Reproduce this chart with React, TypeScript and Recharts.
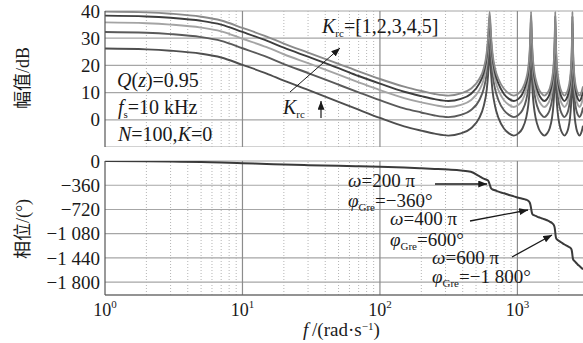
import React from 'react';
import { LineChart, Line, XAxis, YAxis, CartesianGrid, ReferenceLine } from 'recharts';

// frequency points (rad/s)
const freqs = [
  1, 2, 3, 5, 7, 10, 15, 20, 30, 50, 70, 100, 150, 200, 250, 314,
  388, 458, 528, 568, 598, 613, 628, 643, 658, 688, 728, 798, 868, 942,
  1017, 1087, 1157, 1197, 1227, 1242, 1257, 1272, 1287, 1317, 1357, 1427, 1497, 1571,
  1645, 1715, 1785, 1825, 1855, 1870, 1885, 1900, 1915, 1945, 1985, 2055, 2125, 2199,
  2273, 2343, 2413, 2453, 2483, 2498, 2513, 2528, 2543, 2573, 2613, 2683, 2753, 2827,
  2901, 2971, 3000,
];

// magnitude (dB) for Krc = 1..5
const magK1 = [
  26.2, 25.9, 25.4, 24.3, 22.9, 20.2, 17.0, 14.4, 11.0, 6.6, 3.7, 0.7, -2.4, -4.0, -5.1, -5.8,
  -5.0, -3.2, 0.7, 5.0, 11.0, 17.0, 26.0, 17.0, 11.0, 5.0, 0.7, -3.2, -5.0, -5.8,
  -5.0, -3.2, 0.7, 5.0, 11.0, 17.0, 26.0, 17.0, 11.0, 5.0, 0.7, -3.2, -5.0, -5.8,
  -5.0, -3.2, 0.7, 5.0, 11.0, 17.0, 26.0, 17.0, 11.0, 5.0, 0.7, -3.2, -5.0, -5.8,
  -5.0, -3.2, 0.7, 5.0, 11.0, 17.0, 26.0, 17.0, 11.0, 5.0, 0.7, -3.2, -5.0, -5.8,
  -5.0, -3.2, -2.2,
];
const magK2 = [
  32.3, 32.0, 31.5, 30.4, 29.0, 26.3, 23.1, 20.5, 17.2, 12.9, 10.1, 7.2, 4.2, 2.7, 1.6, 1.0,
  1.8, 3.5, 7.2, 11.3, 17.2, 23.1, 32.1, 23.1, 17.2, 11.3, 7.2, 3.5, 1.8, 1.0,
  1.8, 3.5, 7.2, 11.3, 17.2, 23.1, 32.1, 23.1, 17.2, 11.3, 7.2, 3.5, 1.8, 1.0,
  1.8, 3.5, 7.2, 11.3, 17.2, 23.1, 32.1, 23.1, 17.2, 11.3, 7.2, 3.5, 1.8, 1.0,
  1.8, 3.5, 7.2, 11.3, 17.2, 23.1, 32.1, 23.1, 17.2, 11.3, 7.2, 3.5, 1.8, 1.0,
  1.8, 3.5, 4.5,
];
const magK3 = [
  35.8, 35.5, 35.0, 33.9, 32.5, 29.8, 26.7, 24.1, 20.8, 16.6, 13.8, 10.9, 8.0, 6.4, 5.4, 4.7,
  5.5, 7.2, 10.9, 14.8, 20.8, 26.7, 35.6, 26.7, 20.8, 14.8, 10.9, 7.2, 5.5, 4.7,
  5.5, 7.2, 10.9, 14.8, 20.8, 26.7, 35.6, 26.7, 20.8, 14.8, 10.9, 7.2, 5.5, 4.7,
  5.5, 7.2, 10.9, 14.8, 20.8, 26.7, 35.6, 26.7, 20.8, 14.8, 10.9, 7.2, 5.5, 4.7,
  5.5, 7.2, 10.9, 14.8, 20.8, 26.7, 35.6, 26.7, 20.8, 14.8, 10.9, 7.2, 5.5, 4.7,
  5.5, 7.2, 8.2,
];
const magK4 = [
  38.3, 38.0, 37.5, 36.4, 35.0, 32.3, 29.1, 26.5, 23.2, 19.0, 16.1, 13.3, 10.3, 8.7, 7.6, 6.9,
  7.7, 9.5, 13.3, 17.2, 23.2, 29.1, 38.1, 29.1, 23.2, 17.2, 13.3, 9.5, 7.7, 6.9,
  7.7, 9.5, 13.3, 17.2, 23.2, 29.1, 38.1, 29.1, 23.2, 17.2, 13.3, 9.5, 7.7, 6.9,
  7.7, 9.5, 13.3, 17.2, 23.2, 29.1, 38.1, 29.1, 23.2, 17.2, 13.3, 9.5, 7.7, 6.9,
  7.7, 9.5, 13.3, 17.2, 23.2, 29.1, 38.1, 29.1, 23.2, 17.2, 13.3, 9.5, 7.7, 6.9,
  7.7, 9.5, 10.4,
];
const magK5 = [
  39.8, 39.5, 39.0, 37.9, 36.5, 33.8, 30.6, 28.0, 24.7, 20.6, 17.8, 15.0, 12.2, 10.6, 9.5, 8.9,
  9.7, 11.4, 15.0, 18.8, 24.7, 30.6, 39.7, 30.6, 24.7, 18.8, 15.0, 11.4, 9.7, 8.9,
  9.7, 11.4, 15.0, 18.8, 24.7, 30.6, 39.7, 30.6, 24.7, 18.8, 15.0, 11.4, 9.7, 8.9,
  9.7, 11.4, 15.0, 18.8, 24.7, 30.6, 39.7, 30.6, 24.7, 18.8, 15.0, 11.4, 9.7, 8.9,
  9.7, 11.4, 15.0, 18.8, 24.7, 30.6, 39.7, 30.6, 24.7, 18.8, 15.0, 11.4, 9.7, 8.9,
  9.7, 11.4, 12.3,
];

// phase (deg)
const phaseDeg = [
  0, -5, -9, -16, -23, -33, -45, -53, -62, -72, -79, -87, -98, -108, -117, -127,
  -140, -160, -225, -262, -280, -292, -345, -405, -420, -435, -455, -480, -505, -525,
  -545, -560, -575, -590, -615, -645, -700, -760, -790, -805, -815, -835, -850, -865,
  -880, -900, -920, -940, -970, -1000, -1060, -1120, -1150, -1165, -1180, -1200, -1220, -1240,
  -1255, -1270, -1285, -1300, -1325, -1355, -1400, -1440, -1460, -1475, -1490, -1515, -1540, -1560,
  -1580, -1600, -1610,
];

const magTicks = [-10, 0, 10, 20, 30, 40];
const phaseTicks = [-1800, -1440, -1080, -720, -360, 0];
const decadeTicks = [1, 10, 100, 1000];
const minorTicks = [2, 3, 4, 5, 6, 7, 8, 9, 20, 30, 40, 50, 60, 70, 80, 90, 200, 300, 400, 500, 600, 700, 800, 900, 2000];

const seriesKeys = ['k1', 'k2', 'k3', 'k4', 'k5'];
const seriesColors = ['#4e4e4e', '#5a5a5a', '#a4a4a4', '#3e3e3e', '#8a8a8a'];

const magData = freqs.map((f, i) => ({
  f,
  k1: magK1[i],
  k2: magK2[i],
  k3: magK3[i],
  k4: magK4[i],
  k5: magK5[i],
}));
const phaseData = freqs.map((f, i) => ({ f, p: phaseDeg[i] }));

const SERIF = "'Liberation Serif', 'Times New Roman', 'Noto Sans CJK SC', serif";

const fmt = (v: number) => {
  if (v === 0) return '0';
  const s = Math.abs(v).toString();
  const g = s.length > 3 ? s.slice(0, s.length - 3) + ' ' + s.slice(-3) : s;
  return (v < 0 ? '\u2212' : '') + g;
};

const YTick = (props: any) => {
  const { x, y, payload } = props;
  return (
    <text x={x} y={y} dy="0.35em" textAnchor="end" fontFamily={SERIF} fontSize={19} fill="#1a1a1a">
      {fmt(payload.value)}
    </text>
  );
};

const XTick = (props: any) => {
  const { x, y, payload } = props;
  const e = Math.round(Math.log10(payload.value));
  return (
    <text x={x} y={y} dy={21} textAnchor="middle" fontFamily={SERIF} fontSize={18} fill="#1a1a1a">
      10
      <tspan dy={-8} fontSize={11}>{e}</tspan>
    </text>
  );
};

const gridLines = () => [
  ...minorTicks.map((v) => (
    <ReferenceLine key={'m' + v} x={v} stroke="#b4b4b4" strokeDasharray="1 2" strokeWidth={1} />
  )),
  ...decadeTicks.slice(1).map((v) => (
    <ReferenceLine key={'d' + v} x={v} stroke="#8c8c8c" strokeWidth={1.2} />
  )),
];

const Sub = ({ children }: { children: React.ReactNode }) => (
  <tspan fontSize={11} dy={4} fontStyle="normal">{children}</tspan>
);

export default function App() {
  return (
    <div style={{ position: 'absolute', left: 0, top: 0, width: 583, height: 343, background: '#fff', overflow: 'hidden' }}>
      <div style={{ position: 'absolute', left: 0, top: 0 }}>
        <LineChart width={583} height={147} data={magData} margin={{ top: 11, right: 0, bottom: 0, left: 0 }}>
          <CartesianGrid vertical={false} stroke="#a6a6a6" strokeWidth={1.2} />
          {gridLines()}
          <XAxis
            dataKey="f"
            type="number"
            scale="log"
            domain={[1, 3000]}
            allowDataOverflow
            ticks={decadeTicks}
            tick={false}
            tickLine={false}
            height={0}
            axisLine={{ stroke: '#555', strokeWidth: 1.2 }}
          />
          <YAxis
            type="number"
            domain={[-10, 40]}
            ticks={magTicks}
            allowDataOverflow
            width={105}
            tickSize={0}
            tickMargin={5}
            tickLine={false}
            tick={<YTick />}
            axisLine={{ stroke: '#555', strokeWidth: 1.2 }}
          />
          {seriesKeys.map((k, i) => (
            <Line
              key={k}
              type="monotone"
              dataKey={k}
              stroke={seriesColors[i]}
              strokeWidth={1.9}
              dot={false}
              isAnimationActive={false}
            />
          ))}
        </LineChart>
      </div>

      <div style={{ position: 'absolute', left: 0, top: 0 }}>
        <LineChart width={583} height={343} data={phaseData} margin={{ top: 161, right: 0, bottom: 0, left: 0 }}>
          <CartesianGrid vertical={false} stroke="#a6a6a6" strokeWidth={1.2} />
          {gridLines()}
          <XAxis
            dataKey="f"
            type="number"
            scale="log"
            domain={[1, 3000]}
            allowDataOverflow
            ticks={decadeTicks}
            tickSize={0}
            tickMargin={0}
            tickLine={false}
            tick={<XTick />}
            height={48}
            axisLine={{ stroke: '#555', strokeWidth: 1.2 }}
          />
          <YAxis
            type="number"
            domain={[-1990, 0]}
            ticks={phaseTicks}
            allowDataOverflow
            width={105}
            tickSize={0}
            tickMargin={5}
            tickLine={false}
            tick={<YTick />}
            axisLine={{ stroke: '#555', strokeWidth: 1.2 }}
          />
          <Line
            type="monotone"
            dataKey="p"
            stroke="#3a3a3a"
            strokeWidth={2}
            dot={false}
            isAnimationActive={false}
          />
        </LineChart>
      </div>

      <svg width={583} height={343} style={{ position: 'absolute', left: 0, top: 0, pointerEvents: 'none' }} fontFamily={SERIF} fill="#1a1a1a">
        <defs>
          <marker id="ah" viewBox="0 0 10 8" refX="10" refY="4" markerWidth="9" markerHeight="7" markerUnits="userSpaceOnUse" orient="auto">
            <path d="M0,0 L10,4 L0,8 z" fill="#1a1a1a" />
          </marker>
        </defs>

        {/* axis titles */}
        <text transform="translate(29,78) rotate(-90)" textAnchor="middle" fontSize={18}>幅值/dB</text>
        <text transform="translate(29,229) rotate(-90)" textAnchor="middle" fontSize={18}>相位/(°)</text>
        <text x={303} y={336} fontSize={19}>
          <tspan fontStyle="italic">f</tspan>{'\u2009'}/(rad·s<tspan dy={-6} fontSize={11}>−1</tspan><tspan dy={6}>)</tspan>
        </text>

        {/* magnitude panel notes */}
        <text x={117} y={87} fontSize={20}>
          <tspan fontStyle="italic">Q</tspan>(<tspan fontStyle="italic">z</tspan>)=0.95
        </text>
        <text x={118} y={114} fontSize={20}>
          <tspan fontStyle="italic">f</tspan><Sub>s</Sub><tspan dy={-4}>=10 kHz</tspan>
        </text>
        <text x={118} y={141} fontSize={20}>
          <tspan fontStyle="italic">N</tspan>=100,<tspan fontStyle="italic">K</tspan>=0
        </text>
        <text x={322} y={33} fontSize={20}>
          <tspan fontStyle="italic">K</tspan><Sub>rc</Sub><tspan dy={-4}>=[1,2,3,4,5]</tspan>
        </text>
        <line x1={290} y1={92} x2={340} y2={48} stroke="#1a1a1a" strokeWidth={1} markerEnd="url(#ah)" />
        <text x={283} y={114} fontSize={20}>
          <tspan fontStyle="italic">K</tspan><Sub>rc</Sub>
        </text>
        <line x1={321} y1={118} x2={321} y2={101} stroke="#1a1a1a" strokeWidth={1.2} markerEnd="url(#ah)" />

        {/* phase panel notes */}
        <text x={348} y={187} fontSize={19}>
          <tspan fontStyle="italic">ω</tspan>=200 π
        </text>
        <line x1={435} y1={184} x2={487} y2={184} stroke="#1a1a1a" strokeWidth={1.3} markerEnd="url(#ah)" />
        <text x={348} y={207} fontSize={19}>
          <tspan fontStyle="italic">φ</tspan><Sub>Gre</Sub><tspan dy={-4}>=−360°</tspan>
        </text>
        <text x={390} y={225} fontSize={19}>
          <tspan fontStyle="italic">ω</tspan>=400 π
        </text>
        <line x1={470} y1={221} x2={528} y2={210} stroke="#1a1a1a" strokeWidth={1.3} markerEnd="url(#ah)" />
        <text x={390} y={246} fontSize={19}>
          <tspan fontStyle="italic">φ</tspan><Sub>Gre</Sub><tspan dy={-4}>=600°</tspan>
        </text>
        <text x={432} y={264} fontSize={19}>
          <tspan fontStyle="italic">ω</tspan>=600 π
        </text>
        <line x1={512} y1={257} x2={552} y2={235} stroke="#1a1a1a" strokeWidth={1.3} markerEnd="url(#ah)" />
        <text x={432} y={283} fontSize={19}>
          <tspan fontStyle="italic">φ</tspan><Sub>Gre</Sub><tspan dy={-4}>=−1 800°</tspan>
        </text>
      </svg>
    </div>
  );
}
